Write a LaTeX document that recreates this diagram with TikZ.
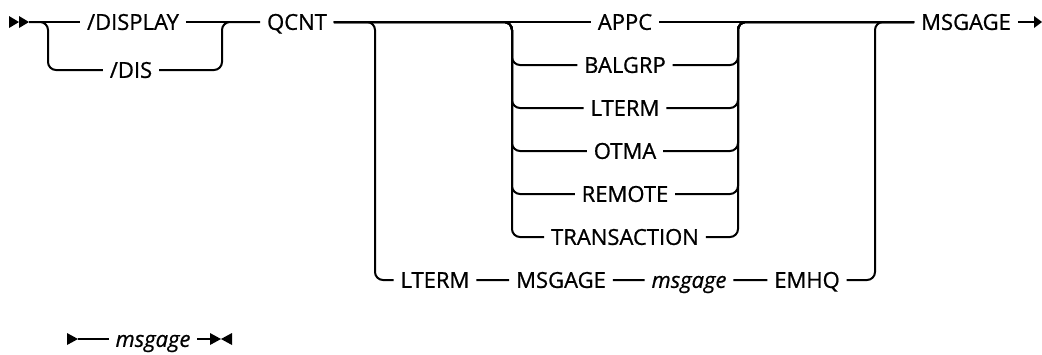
\documentclass[tikz,border=0pt]{standalone}
\usepackage{fontspec}
\setmainfont{Open Sans}[FakeBold=0.8]
\usetikzlibrary{calc}

\begin{document}
\begin{tikzpicture}[
  x=0.75pt, y=-0.75pt,
  every node/.style={font=\fontsize{16.5}{19}\selectfont, inner xsep=5pt, inner ysep=0pt, text height=11.8pt, text depth=0pt},
  var/.style={font=\fontsize{16.5}{19}\selectfont\itshape},
  rail/.style={line width=1.5pt, rounded corners=6pt},
  tipfill/.style={fill=black},
]
\useasboundingbox (0,0) rectangle (1042,354);

% ---- keywords on the main line ----
\node (disp) at (133,22) {/DISPLAY};
\node (dis) at (131,70) {/DIS};
\node (qcnt) at (297,22) {QCNT};
\node (msgage) at (966,22) {MSGAGE};
% ---- queue types (inner choice) ----
\node (appc) at (625,22) {APPC};
\node (balgrp) at (625,65) {BALGRP};
\node (lterm) at (625,108) {LTERM};
\node (otma) at (625,151) {OTMA};
\node (remote) at (625,194) {REMOTE};
\node (trans) at (625,237) {TRANSACTION};
% ---- lower alternative ----
\node (lt2) at (435,280) {LTERM};
\node (ms2) at (561,280) {MSGAGE};
\node[var] (mv2) at (689,280) {msgage};
\node (emhq) at (807,280) {EMHQ};
% ---- fragment ----
\node[var] (frag) at (153,339) {msgage};

% ---- fork / join points ----
\coordinate (begin) at (29,22);
\coordinate (f1) at (48,22);
\coordinate (j1) at (222,22);
\coordinate (f2) at (375,22);
\coordinate (j2) at (875,22);
\coordinate (f3) at (512,22);
\coordinate (j3) at (738,22);
\coordinate (end) at (1034,22);
\coordinate (fbegin) at (78,339);
\coordinate (fend) at (210,339);

% ---- main line ----
\draw[rail] (begin) -- (disp) -- (qcnt) -- (appc) -- (msgage) -- (end);

% ---- /DIS ----
\draw[rail] (begin) -| (f1 |- dis) -- (dis);
\draw[rail] (dis) -| (j1) -- (qcnt);

% ---- queue types ----
\foreach \r in {balgrp,lterm,otma,remote,trans}
  \draw[rail] (qcnt) -| (f3 |- \r) -- (\r) -| (j3) -- (msgage);

% ---- LTERM MSGAGE msgage EMHQ ----
\draw[rail] (qcnt) -| (f2 |- lt2) -- (lt2) -- (ms2) -- (mv2) -- (emhq) -| (j2) -- (msgage);

% ---- start / end marks ----
\fill[tipfill] (begin) ++(-20,-6) -- ++(10,6) -- ++(-10,6) -- cycle;
\fill[tipfill] (begin) ++(-10,-6) -- ++(10,6) -- ++(-10,6) -- cycle;
\fill[tipfill] (end) ++(0,-6) -- ++(8,6) -- ++(-8,6) -- cycle;

% ---- msgage fragment ----
\draw[rail] (fbegin) -- (frag) -- (fend);
\fill[tipfill] (fbegin) ++(-11,-6) -- ++(11,6) -- ++(-11,6) -- cycle;
\fill[tipfill] (fend) ++(0,-6) -- ++(11,6) -- ++(-11,6) -- cycle;
\fill[tipfill] (fend) ++(22,-6) -- ++(-11,6) -- ++(11,6) -- cycle;

\end{tikzpicture}
\end{document}
